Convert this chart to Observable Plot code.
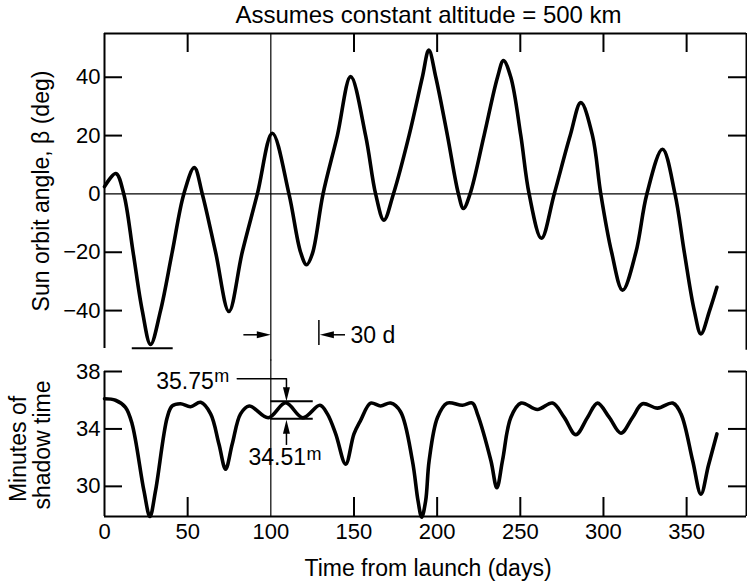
<!DOCTYPE html>
<html>
<head>
<meta charset="utf-8">
<script src="https://cdn.jsdelivr.net/npm/d3@7"></script>
<script src="https://cdn.jsdelivr.net/npm/@observablehq/plot@0.6"></script>
<style>
  body { margin: 0; background: #fff; }
  #chart { width: 747px; height: 582px; position: relative; }
  #chart svg { display: block; }
</style>
</head>
<body>
<div id="chart"></div>
<script>
// ---- Data ----
const titleText = "Assumes constant altitude = 500 km";
const xLabel = "Time from launch (days)";
const betaLabel = "Sun orbit angle, β (deg)";
const shadowLabel = ["Minutes of", "shadow time"];

const xTicks = [0, 50, 100, 150, 200, 250, 300, 350];
const xTickMarks = [50, 150, 200, 250, 300, 350];
const betaTicks = [40, 20, 0, -20, -40];
const betaSideTicks = [40, 20, -20, -40];
const shadowTicks = [38, 34, 30];

const betaDays = [0, 6.8, 11.6, 17.2, 22.7, 27.7, 33.7, 40.7, 47.7, 54, 58.8, 66.8, 74.8, 82.8, 91.9,
  100.9, 110.9, 117.9, 121.5, 125, 131.4, 140, 148, 157, 163, 168, 173.7, 183.1, 191.1, 195,
  199.2, 206.2, 212.8, 215.8, 219.8, 228.2, 236.3, 239.9, 244.3, 250.3, 255.3, 262.7, 270.4,
  280, 286.4, 293.4, 298.4, 304.9, 311.5, 319.5, 326.1, 335.5, 343, 348.6, 354.6, 358.6, 363.8, 368.2];
const betaValues = [2.5, 7, 0, -20, -40, -51.6, -40, -20, 0, 9, 0, -20, -40.3, -20, 0,
  20.8, 0, -20, -24.3, -20.5, 0, 20, 40.2, 20, 0, -9, 0, 20, 40, 49.3,
  40, 20, 0, -5, 0, 20, 40, 45.7, 40, 20, 0, -15.2, 0,
  20, 31.3, 20, 0, -20, -33, -20, 0, 15.3, 0, -20, -40, -48, -40, -32];

const shadowDays = [0, 6.6, 12.6, 16.6, 23.7, 27.3, 30.7, 37.7, 40.7, 45.7, 51.7, 57.8, 63.8, 68.8,
  72.8, 76.8, 81.8, 87, 98.5, 108.9, 119.2, 129.5, 134, 139, 145, 150, 154, 160, 166, 172, 178,
  185.1, 188.5, 190.7, 193.1, 195.2, 200.2, 206, 215.2, 221.2, 224.2, 232.3, 235.9, 239.3, 244.3,
  250.5, 260.3, 269.4, 276.4, 283.4, 290.4, 296.4, 303.5, 310.5, 317.5, 323.5, 332.5, 341.6,
  346.6, 353.6, 358.6, 363.1, 368.2];
const shadowValues = [36.1, 36.0, 35.5, 34.35, 29.7, 27.9, 29.7, 34.8, 35.6, 35.75, 35.55, 35.85, 35.05, 32.95,
  31.2, 32.95, 35.05, 35.6, 34.78, 35.82, 34.78, 35.65, 35.05, 33.66, 31.55, 33.66, 34.6, 35.8, 35.6, 35.8, 35.2,
  31.8, 29.0, 27.85, 29.0, 31.8, 34.8, 35.8, 35.65, 35.8, 35.05, 31.8, 29.9, 31.8, 34.8,
  35.8, 35.35, 35.8, 34.8, 33.6, 34.8, 35.8, 34.8, 33.7, 34.8, 35.75, 35.45, 35.8,
  35.05, 31.8, 29.45, 31.45, 33.65];

// annotations
const annHigh = {label: "35.75", y: 35.93};
const annLow = {label: "34.51", y: 34.71};

// ---- Build tables ----
const betaData = betaDays.map((d, i) => ({day: d, beta: betaValues[i]}));
const shadowData = shadowDays.map((d, i) => ({day: d, min: shadowValues[i]}));

const FONT = "'Liberation Sans', Arial, Helvetica, sans-serif";
const W = 747, ML = 104, MR = 1;
const frameW = W - ML - MR;
const xDomain = [0, 386];
const fmt = d => d < 0 ? "\u2212" + Math.abs(d) : String(d);

// custom filled arrowheads (tip at the data point)
function head(dir) {
  return {
    draw(ctx, size) {
      const r = Math.sqrt(size / Math.PI);
      const L = r * 2.8, w = r * 0.7;
      const p = {
        right: [[0, 0], [-L, -w], [-L, w]],
        left: [[0, 0], [L, -w], [L, w]],
        down: [[0, 0], [-w, -L], [w, -L]],
        up: [[0, 0], [-w, L], [w, L]]
      }[dir];
      ctx.moveTo(p[0][0], p[0][1]);
      ctx.lineTo(p[1][0], p[1][1]);
      ctx.lineTo(p[2][0], p[2][1]);
      ctx.closePath();
    }
  };
}

const svgStyle = {fontFamily: FONT, fontSize: "22px", background: "white", color: "black", overflow: "visible"};

// ---- Top panel ----
const topH = 360, topMT = 33, topMB = 12;
const topFrameH = topH - topMT - topMB;
const topPlot = Plot.plot({
  width: W, height: topH,
  marginTop: topMT, marginBottom: topMB, marginLeft: ML, marginRight: MR,
  style: svgStyle,
  x: {domain: xDomain, axis: null},
  y: {domain: [-53, 55], axis: null},
  marks: [
    Plot.ruleY([0], {strokeWidth: 1.2}),
    Plot.ruleX([100], {y1: 55, y2: -57.3, strokeWidth: 1.2}),
    // frame: left, right, top
    Plot.ruleX([0], {y1: -53, y2: 55, strokeWidth: 2}),
    Plot.ruleX([386], {y1: -53.6, y2: 55, strokeWidth: 2}),
    Plot.ruleY([55], {strokeWidth: 2}),
    // inward ticks
    Plot.ruleX(xTickMarks, {insetBottom: topFrameH - 19, strokeWidth: 2}),
    Plot.ruleY(betaSideTicks, {insetRight: frameW - 18, strokeWidth: 2}),
    Plot.ruleY(betaSideTicks, {insetLeft: frameW - 18, strokeWidth: 2}),
    Plot.text(betaTicks, {y: d => d, text: fmt, frameAnchor: "left", textAnchor: "end", lineAnchor: "middle", dx: -4, fontSize: 22}),
    // curve
    Plot.line(betaData, {x: "day", y: "beta", curve: "catmull-rom", strokeWidth: 3.6, strokeLinejoin: "round"}),
    // annotations
    Plot.ruleY([-52.9], {x1: 16.7, x2: 41.3, strokeWidth: 2}),
    Plot.ruleY([-48.3], {x1: 83.8, x2: 96, strokeWidth: 1.5}),
    Plot.dot([{x: 100, y: -48.3}], {x: "x", y: "y", r: 5, symbol: head("right"), fill: "black", stroke: "none"}),
    Plot.ruleX([128.9], {y1: -43.4, y2: -52, strokeWidth: 1.5}),
    Plot.ruleY([-48.3], {x1: 133, x2: 144.9, strokeWidth: 1.5}),
    Plot.dot([{x: 129.5, y: -48.3}], {x: "x", y: "y", r: 5, symbol: head("left"), fill: "black", stroke: "none"}),
    Plot.text(["30 d"], {x: 147.9, y: -48.5, textAnchor: "start", lineAnchor: "middle", fontSize: 23}),
    // title and y label
    Plot.text([titleText], {x: 194.8, frameAnchor: "top", lineAnchor: "middle", textAnchor: "middle", dy: -18, fontSize: 24}),
    Plot.text([betaLabel], {frameAnchor: "left", textAnchor: "middle", lineAnchor: "middle", dx: -(ML - 41), rotate: -90, fontSize: 23})
  ]
});

// ---- Bottom panel ----
const botH = 222, botMT = 11, botMB = 66;
const botFrameH = botH - botMT - botMB;
const botPlot = Plot.plot({
  width: W, height: botH,
  marginTop: botMT, marginBottom: botMB, marginLeft: ML, marginRight: MR,
  style: svgStyle,
  x: {domain: xDomain, axis: null},
  y: {domain: [27.9, 38], axis: null},
  marks: [
    Plot.ruleX([100], {y1: 27.9, y2: 38.8, strokeWidth: 1.2}),
    // frame: left, right, bottom
    Plot.ruleX([0], {strokeWidth: 2}),
    Plot.ruleX([386], {strokeWidth: 2}),
    Plot.ruleY([27.9], {strokeWidth: 2}),
    // inward ticks
    Plot.ruleX(xTickMarks, {insetTop: botFrameH - 19, strokeWidth: 2}),
    Plot.ruleY(shadowTicks, {insetRight: frameW - 18, strokeWidth: 2}),
    Plot.ruleY(shadowTicks, {insetLeft: frameW - 18, strokeWidth: 2}),
    Plot.text(shadowTicks, {y: d => d, text: fmt, frameAnchor: "left", textAnchor: "end", lineAnchor: "middle", dx: -4, fontSize: 22}),
    Plot.text(xTicks, {x: d => d, text: fmt, frameAnchor: "bottom", textAnchor: "middle", lineAnchor: "middle", dy: 15, fontSize: 22}),
    Plot.text([xLabel], {x: 194.5, frameAnchor: "bottom", textAnchor: "middle", lineAnchor: "middle", dy: 52, fontSize: 23}),
    Plot.text([shadowLabel[0]], {frameAnchor: "left", textAnchor: "middle", lineAnchor: "middle", dx: -(ML - 18), dy: 5, rotate: -90, fontSize: 23}),
    Plot.text([shadowLabel[1]], {frameAnchor: "left", textAnchor: "middle", lineAnchor: "middle", dx: -(ML - 42), dy: 1, rotate: -90, fontSize: 23}),
    // curve
    Plot.line(shadowData, {x: "day", y: "min", curve: "catmull-rom", strokeWidth: 3.6, strokeLinejoin: "round"}),
    // annotations
    Plot.ruleY([annHigh.y, annLow.y], {x1: 100, x2: 125.5, strokeWidth: 2}),
    Plot.line([[79.8, 37.49], [109.4, 37.49], [109.4, 36.7]], {strokeWidth: 1.5}),
    Plot.dot([{x: 109.4, y: annHigh.y}], {x: "x", y: "y", r: 5, symbol: head("down"), fill: "black", stroke: "none"}),
    Plot.ruleX([109.4], {y1: 32.85, y2: 34.0, strokeWidth: 1.5}),
    Plot.dot([{x: 109.4, y: 34.64}], {x: "x", y: "y", r: 5, symbol: head("up"), fill: "black", stroke: "none"}),
    Plot.text([annHigh.label], {x: 65.7, y: 37.29, textAnchor: "end", lineAnchor: "middle", fontSize: 23}),
    Plot.text(["m"], {x: 66, y: 37.64, textAnchor: "start", lineAnchor: "middle", fontSize: 18}),
    Plot.text([annLow.label], {x: 121.2, y: 31.98, textAnchor: "end", lineAnchor: "middle", fontSize: 23}),
    Plot.text(["m"], {x: 121.5, y: 32.23, textAnchor: "start", lineAnchor: "middle", fontSize: 18})
  ]
});

const chart = document.getElementById("chart");
chart.appendChild(topPlot);
chart.appendChild(botPlot);
</script>
</body>
</html>
